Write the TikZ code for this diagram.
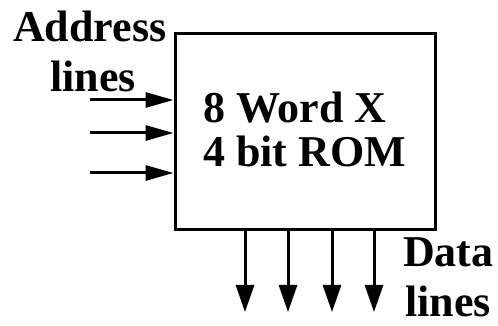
\documentclass[tikz,border=0pt]{standalone}
\usepackage{fontspec}
\setmainfont{Liberation Serif}
\usetikzlibrary{arrows.meta}
\begin{document}
\begin{tikzpicture}[x=1pt,y=1pt,
  lbl/.style={anchor=base west,inner sep=0pt,font=\fontsize{44}{44}\selectfont\bfseries},
  inarrow/.style={line width=3pt,-{Triangle[length=28pt,width=15pt]}},
  outarrow/.style={line width=3pt,-{Triangle[length=27pt,width=18pt]}}]
\useasboundingbox (0,0) rectangle (498,326);
\node[draw,line width=3pt,minimum width=260pt,minimum height=196pt,inner sep=0pt] (rom) at (305,194) {};
\node[lbl] (t1) at (203,203) {8 Word X};
\node[lbl] (t2) at (203,159) {4 bit ROM};
\node[lbl] (addr) at (13,284) {Address};
\node[lbl] (al) at (50,234) {lines};
\node[lbl] (data) at (403,59) {Data};
\node[lbl] (dl) at (405,9) {lines};
\coordinate (i1) at (90,226);
\coordinate (i2) at (90,193);
\coordinate (i3) at (90,153);
\draw[inarrow] (i1) -- (i1 -| rom.west);
\draw[inarrow] (i2) -- (i2 -| rom.west);
\draw[inarrow] (i3) -- (i3 -| rom.west);
\coordinate (o1) at (245,14);
\coordinate (o2) at (288,14);
\coordinate (o3) at (332,14);
\coordinate (o4) at (374,14);
\draw[outarrow] (o1 |- rom.south) -- (o1);
\draw[outarrow] (o2 |- rom.south) -- (o2);
\draw[outarrow] (o3 |- rom.south) -- (o3);
\draw[outarrow] (o4 |- rom.south) -- (o4);
\end{tikzpicture}
\end{document}
